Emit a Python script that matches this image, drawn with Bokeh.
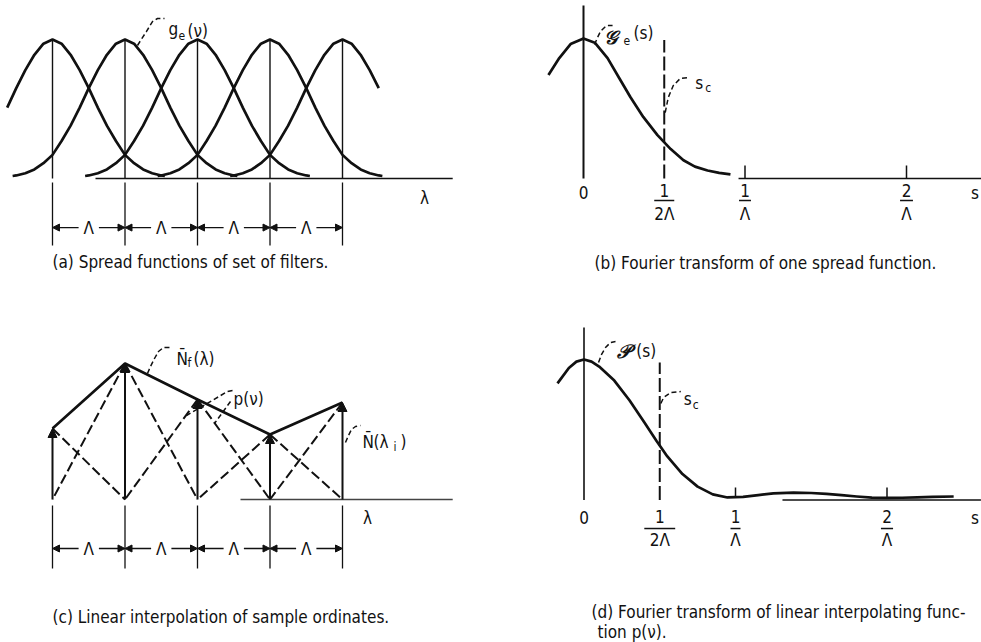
from bokeh.plotting import figure
from bokeh.layouts import gridplot
from bokeh.models import Range1d, Arrow, NormalHead, ColumnDataSource
from bokeh.core.properties import value
from bokeh.embed import file_html
from bokeh.resources import INLINE

# ---------------- data ----------------
# (a) spread functions of the filter set; centres in units of the spacing Λ
filter_centres = [0, 1, 2, 3, 4]
spread_offsets = [-1.55, -1.5, -1.375, -1.25, -1.125, -1.0, -0.875, -0.75, -0.625, -0.5,
                  -0.375, -0.25, -0.125, 0.0, 0.125, 0.25, 0.375, 0.5, 0.625, 0.75,
                  0.875, 1.0, 1.125, 1.25, 1.375, 1.5, 1.55]
spread_values = [0.018, 0.022, 0.038, 0.065, 0.11, 0.17, 0.27, 0.38, 0.51, 0.65,
                 0.78, 0.89, 0.97, 1.0, 0.97, 0.89, 0.78, 0.65, 0.51, 0.38,
                 0.27, 0.17, 0.11, 0.065, 0.038, 0.022, 0.018]
spread_from = [-0.625, -1.55, -1.55, -1.55, -1.55]
spread_to = [1.55, 1.55, 1.55, 1.55, 0.5]

# (b) Fourier transform of one spread function, s in units of 1/Λ
g_s = [-0.217, -0.15, -0.08, 0.0, 0.07, 0.149, 0.22, 0.291, 0.37, 0.458,
       0.54, 0.619, 0.69, 0.768, 0.84, 0.91]
g_val = [0.74, 0.86, 0.96, 1.0, 0.97, 0.86, 0.72, 0.58, 0.44, 0.31,
         0.21, 0.13, 0.085, 0.057, 0.04, 0.029]

# (c) sample ordinates N(λi)
sample_pos = [0, 1, 2, 3, 4]
sample_vals = [0.71, 1.36, 1.00, 0.65, 0.97]

# (d) Fourier transform of the linear interpolating function p(ν)
p_s = [-0.175, -0.1, -0.05, 0.0, 0.05, 0.1, 0.2, 0.3, 0.4, 0.479,
       0.55, 0.65, 0.75, 0.85, 0.947, 1.05, 1.15, 1.25, 1.383, 1.5,
       1.6, 1.7, 1.8, 1.9, 2.0, 2.1, 2.2, 2.3, 2.44]
p_val = [0.83, 0.94, 0.985, 1.0, 0.985, 0.95, 0.85, 0.71, 0.55, 0.42,
         0.31, 0.185, 0.095, 0.04, 0.018, 0.022, 0.035, 0.047, 0.053, 0.05,
         0.044, 0.035, 0.025, 0.017, 0.015, 0.016, 0.019, 0.022, 0.025]

s_cut = 0.5
axis_ticks = [1, 2]
frac_pos = [0.5, 1, 2]
frac_num = ["1", "1", "2"]
frac_den = ["2Λ", "Λ", "Λ"]

FONT = value("DejaVu Sans Condensed")
INK = "#111111"
LABEL = "17px"
SUB = "12px"


def panel(x_origin, x_scale, y_origin, y_scale, left, top, width, height):
    """A bare drawing area whose data units map onto a fixed page window."""
    p = figure(width=width, height=height, output_backend="svg", toolbar_location=None,
               x_range=Range1d((left - x_origin) / x_scale, (left + width - x_origin) / x_scale),
               y_range=Range1d((y_origin - (top + height)) / y_scale, (y_origin - top) / y_scale),
               x_axis_type=None, y_axis_type=None, min_border=0,
               outline_line_color=None, background_fill_color="white",
               border_fill_color="white")
    return p


def txt(p, x, y, s, size=LABEL, align="left", baseline="alphabetic", font=FONT, style="normal"):
    p.text(x=[x], y=[y], text=[s], text_font=font, text_font_size=size, text_align=align,
           text_baseline=baseline, text_color=INK, text_font_style=style)


def leader(p, xs, ys):
    p.line(xs, ys, line_color=INK, line_width=1.5, line_dash="5 3")


def arrows(p, x0, y0, x1, y1, size, width):
    src = ColumnDataSource(dict(x0=x0, y0=y0, x1=x1, y1=y1))
    p.add_layout(Arrow(end=NormalHead(size=size, fill_color=INK, line_color=INK, line_width=1),
                       x_start="x0", y_start="y0", x_end="x1", y_end="y1",
                       line_color=INK, line_width=width, source=src))


def spacing_marks(p, centres, tick_top, tick_bottom, row):
    p.segment(x0=centres, y0=[tick_top] * len(centres), x1=centres,
              y1=[tick_bottom] * len(centres), line_color=INK, line_width=1.3)
    mids = [(a + b) / 2 for a, b in zip(centres[:-1], centres[1:])]
    gap = 0.14
    arrows(p, [m - gap for m in mids] + [m + gap for m in mids], [row] * (2 * len(mids)),
           centres[:-1] + centres[1:], [row] * (2 * len(mids)), 7, 1.3)
    p.text(x=mids, y=[row] * len(mids), text=["Λ"] * len(mids), text_font=FONT,
           text_font_size=LABEL, text_align="center", text_baseline="middle", text_color=INK)


def caption(p, x, y, s):
    txt(p, x, y, s, size="17px", baseline="middle")


# ---------------- (a) spread functions of set of filters ----------------
pa = panel(52, 72.5, 178, 139, 0, 0, 490, 321)
curve_xs, curve_ys = [], []
for c, lo, hi in zip(filter_centres, spread_from, spread_to):
    pts = [(c + d, v) for d, v in zip(spread_offsets, spread_values) if lo - 1e-9 <= d <= hi + 1e-9]
    curve_xs.append([q[0] for q in pts])
    curve_ys.append([q[1] for q in pts])
pa.multi_line(curve_xs, curve_ys, line_color=INK, line_width=2.7, line_join="round")
peak = max(spread_values)
pa.segment(x0=filter_centres, y0=[0] * 5, x1=filter_centres, y1=[peak] * 5,
           line_color=INK, line_width=1.4)
pa.line([0.593, 5.52], [0, 0], line_color=INK, line_width=1.5)
txt(pa, 5.131, -0.137, "λ", align="center", baseline="middle")
spacing_marks(pa, filter_centres, -0.029, -0.482, -0.353)
txt(pa, 1.600, 1.072, "g")
txt(pa, 1.738, 1.029, "e", size=SUB)
txt(pa, 1.862, 1.058, "(ν)")
leader(pa, [1.172, 1.241, 1.297, 1.338, 1.379, 1.448, 1.545],
       [0.957, 1.014, 1.058, 1.094, 1.129, 1.151, 1.151])
caption(pa, 0.0, -0.604, "(a) Spread functions of set of filters.")

# ---------------- (b) Fourier transform of one spread function ----------------
pb = panel(583, 161.5, 178, 140, 490, 0, 491, 321)
pb.line([0, 0], [0, 1.236], line_color=INK, line_width=2.0)
pb.line(g_s, g_val, line_color=INK, line_width=2.7, line_join="round")
pb.line([s_cut, s_cut], [0, 0.99], line_color=INK, line_width=2.0, line_dash="14 4")
pb.line([0.96, 2.47], [0, 0], line_color=INK, line_width=1.5)
pb.segment(x0=axis_ticks, y0=[0, 0], x1=axis_ticks, y1=[0.093, 0.093], line_color=INK, line_width=1.5)
txt(pb, 0, -0.1, "0", align="center", baseline="middle")
pb.text(x=frac_pos, y=[-0.086] * 3, text=frac_num, text_font=FONT, text_font_size=LABEL,
        text_align="center", text_baseline="middle", text_color=INK)
pb.text(x=frac_pos, y=[-0.25] * 3, text=frac_den, text_font=FONT, text_font_size=LABEL,
        text_align="center", text_baseline="middle", text_color=INK)
b_half = [0.062, 0.037, 0.040]
pb.segment(x0=[f - h for f, h in zip(frac_pos, b_half)], y0=[-0.157] * 3,
           x1=[f + h for f, h in zip(frac_pos, b_half)], y1=[-0.157] * 3,
           line_color=INK, line_width=1.5)
txt(pb, 2.40, -0.1, "s", baseline="middle")
txt(pb, 0.124, 1.014, "\U0001D4A2", size="19px", font=value("DejaVu Serif"), style="bold italic")
txt(pb, 0.248, 0.986, "e", size=SUB)
txt(pb, 0.310, 1.036, "(s)")
leader(pb, [0.068, 0.087, 0.105, 0.130, 0.155, 0.180], [0.957, 1.007, 1.050, 1.079, 1.093, 1.093])
txt(pb, 0.692, 0.679, "s")
txt(pb, 0.754, 0.643, "c", size=SUB)
leader(pb, [0.506, 0.525, 0.556, 0.599, 0.649], [0.471, 0.579, 0.664, 0.714, 0.721])
caption(pb, 0.068, -0.6, "(b) Fourier transform of one spread function.")

# ---------------- (c) linear interpolation of sample ordinates ----------------
pc = panel(52, 72.5, 499, 100, 0, 321, 490, 321)
tri_x0, tri_y0, tri_x1, tri_y1 = [], [], [], []
for i, (x, v) in enumerate(zip(sample_pos, sample_vals)):
    for j in (i - 1, i + 1):
        if 0 <= j < len(sample_pos):
            tri_x0.append(x)
            tri_y0.append(v)
            tri_x1.append(sample_pos[j])
            tri_y1.append(0)
pc.segment(x0=tri_x0, y0=tri_y0, x1=tri_x1, y1=tri_y1, line_color=INK, line_width=2.0,
           line_dash="10 4")
pc.line(sample_pos, sample_vals, line_color=INK, line_width=2.7, line_join="round")
arrows(pc, sample_pos, [0] * 5, sample_pos, sample_vals, 9, 2.0)
pc.line([2.593, 5.52], [0, 0], line_color="#444444", line_width=1.5)
txt(pc, 4.345, -0.18, "λ", align="center", baseline="middle")
spacing_marks(pc, sample_pos, -0.06, -0.69, -0.49)
txt(pc, 1.710, 1.41, "N\u0304")
txt(pc, 1.862, 1.37, "f", size=SUB)
txt(pc, 1.945, 1.41, "(λ)")
leader(pc, [1.310, 1.352, 1.407, 1.462, 1.531, 1.655], [1.26, 1.33, 1.41, 1.48, 1.52, 1.52])
txt(pc, 2.497, 1.01, "p(ν)")
leader(pc, [2.483, 2.414, 1.848], [1.09, 1.08, 0.84])
leader(pc, [2.455, 2.234], [0.98, 0.76])
txt(pc, 4.276, 0.58, "N\u0304")
txt(pc, 4.428, 0.58, "(λ")
txt(pc, 4.703, 0.53, "i", size=SUB)
txt(pc, 4.80, 0.58, ")")
leader(pc, [4.041, 4.083, 4.124, 4.179, 4.248], [0.57, 0.64, 0.70, 0.73, 0.74])
caption(pc, 0.0, -1.17, "(c) Linear interpolation of sample ordinates.")

# ---------------- (d) Fourier transform of linear interpolating function ----------------
pd = panel(583.5, 151.5, 499.5, 140.5, 490, 321, 491, 321)
pd.line([0, 0], [0, 1.228], line_color=INK, line_width=1.6)
pd.line(p_s, p_val, line_color=INK, line_width=2.7, line_join="round")
pd.line([s_cut, s_cut], [0, 0.979], line_color=INK, line_width=2.0, line_dash="14 4")
pd.line([1.31, 2.62], [0, 0], line_color=INK, line_width=1.5)
pd.segment(x0=axis_ticks, y0=[0.018, 0.018], x1=axis_ticks, y1=[0.089, 0.089],
           line_color=INK, line_width=1.5)
txt(pd, 0, -0.125, "0", align="center", baseline="middle")
pd.text(x=frac_pos, y=[-0.117] * 3, text=frac_num, text_font=FONT, text_font_size=LABEL,
        text_align="center", text_baseline="middle", text_color=INK)
pd.text(x=frac_pos, y=[-0.288] * 3, text=frac_den, text_font=FONT, text_font_size=LABEL,
        text_align="center", text_baseline="middle", text_color=INK)
d_half = [0.102, 0.033, 0.040]
pd.segment(x0=[f - h for f, h in zip(frac_pos, d_half)], y0=[-0.203] * 3,
           x1=[f + h for f, h in zip(frac_pos, d_half)], y1=[-0.203] * 3,
           line_color=INK, line_width=1.5)
txt(pd, 2.555, -0.125, "s", baseline="middle")
txt(pd, 0.215, 1.064, "\U0001D4AB", size="19px", font=value("DejaVu Serif"), style="bold italic")
txt(pd, 0.345, 1.064, "(s)")
leader(pd, [0.096, 0.116, 0.142, 0.175, 0.208], [0.979, 1.036, 1.085, 1.121, 1.128])
txt(pd, 0.658, 0.722, "s")
txt(pd, 0.718, 0.673, "c", size=SUB)
leader(pd, [0.507, 0.526, 0.573, 0.639], [0.687, 0.730, 0.765, 0.772])
caption(pd, 0.05, -0.80, "(d) Fourier transform of linear interpolating func-")
caption(pd, 0.089, -0.94, "tion  p(ν).")

grid = gridplot([[pa, pb], [pc, pd]], toolbar_location=None)

open("out.html", "w").write(file_html(grid, INLINE))
